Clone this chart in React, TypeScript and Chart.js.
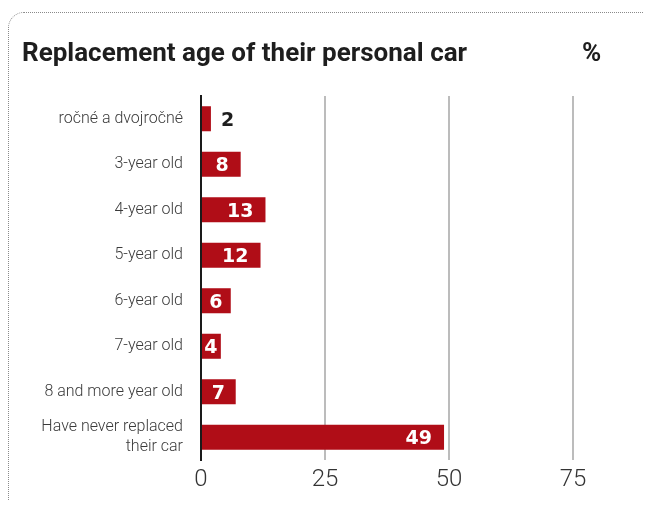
import React, { useEffect, useRef } from "react";
import { Chart, registerables } from "chart.js";

Chart.register(...registerables);

const categories: (string | string[])[] = [
  "ročné a dvojročné",
  "3-year old",
  "4-year old",
  "5-year old",
  "6-year old",
  "7-year old",
  "8 and more year old",
  ["Have never replaced", "their car"],
];
const values = [2, 8, 13, 12, 6, 4, 7, 49];
const xTicks = [0, 25, 50, 75];
const titleText = "Replacement age of their personal car";
const unitText = "%";

const BAR_RED = "#b00d17";
const W = 643;
const H = 492;

const valueLabels = {
  id: "valueLabels",
  afterDatasetsDraw(chart: any) {
    const ctx = chart.ctx;
    const meta = chart.getDatasetMeta(0);
    const xs = chart.scales.x;
    const zero = xs.getPixelForValue(0);
    ctx.save();
    ctx.font = "bold 19px 'DejaVu Sans', sans-serif";
    ctx.textBaseline = "middle";
    ctx.textAlign = "center";
    meta.data.forEach((bar: any, i: number) => {
      const v = values[i];
      const txt = String(v);
      const w = ctx.measureText(txt).width;
      const end = bar.x;
      const y = bar.y + 2;
      if (end - zero < w + 4) {
        ctx.fillStyle = "#1e1e1e";
        ctx.fillText(txt, end + 10 + w / 2, y);
      } else {
        ctx.fillStyle = "#ffffff";
        const cx = Math.max((zero + end) / 2, end - 12 - w / 2);
        ctx.fillText(txt, cx, y);
      }
    });
    ctx.restore();
  },
};

export default function App() {
  const ref = useRef<HTMLCanvasElement | null>(null);
  useEffect(() => {
    if (!ref.current) return;
    const chart = new Chart(ref.current, {
      type: "bar",
      data: {
        labels: categories,
        datasets: [
          {
            data: values,
            backgroundColor: BAR_RED,
            borderWidth: 0,
            barPercentage: 0.55,
            categoryPercentage: 1,
          },
        ],
      },
      options: {
        indexAxis: "y",
        responsive: false,
        animation: false,
        devicePixelRatio: 1,
        layout: { padding: { top: 88, right: 78, left: 0, bottom: 0 } },
        plugins: {
          legend: { display: false },
          tooltip: { enabled: false },
          title: { display: false },
        },
        scales: {
          x: {
            min: 0,
            max: 75,
            afterFit: (s: any) => {
              s.height = 40;
            },
            afterBuildTicks: (s: any) => {
              s.ticks = xTicks.map((v) => ({ value: v }));
            },
            grid: {
              color: "#bcbcbc",
              lineWidth: 2,
              drawTicks: false,
            },
            border: { display: false },
            ticks: {
              color: "#333333",
              padding: 6,
              font: { family: "Roboto", size: 24, weight: "300" as any },
            },
          },
          y: {
            afterFit: (s: any) => {
              s.width = 193;
            },
            grid: { display: false, drawTicks: false },
            border: { display: true, color: "#1a1a1a", width: 2 },
            ticks: {
              color: "#3a3a3a",
              padding: 18,
              font: { family: "Roboto", size: 16, weight: "300" as any, lineHeight: 1.25 },
            },
          },
        },
      },
      plugins: [valueLabels],
    });
    return () => chart.destroy();
  }, []);

  const titleFont = "'Roboto', sans-serif";

  return (
    <div style={{ position: "relative", width: W, height: H, overflow: "hidden", background: "#fff" }}>
      <div
        style={{
          position: "absolute",
          left: 0,
          top: 4,
          width: 900,
          height: 800,
          border: "1px dotted #8a8a8a",
          borderTopLeftRadius: 16,
          boxSizing: "border-box",
        }}
      />
      <canvas ref={ref} width={W} height={H} style={{ position: "absolute", left: 0, top: 0, width: W, height: H }} />
      <div
        style={{
          position: "absolute",
          left: 14,
          top: 29,
          fontFamily: titleFont,
          fontWeight: 700,
          fontSize: 26,
          lineHeight: "30px",
          color: "#1e1e1e",
          whiteSpace: "nowrap",
        }}
      >
        {titleText}
      </div>
      <div
        style={{
          position: "absolute",
          left: 574,
          top: 29,
          fontFamily: titleFont,
          fontWeight: 700,
          fontSize: 26,
          lineHeight: "30px",
          color: "#1e1e1e",
        }}
      >
        {unitText}
      </div>
    </div>
  );
}
